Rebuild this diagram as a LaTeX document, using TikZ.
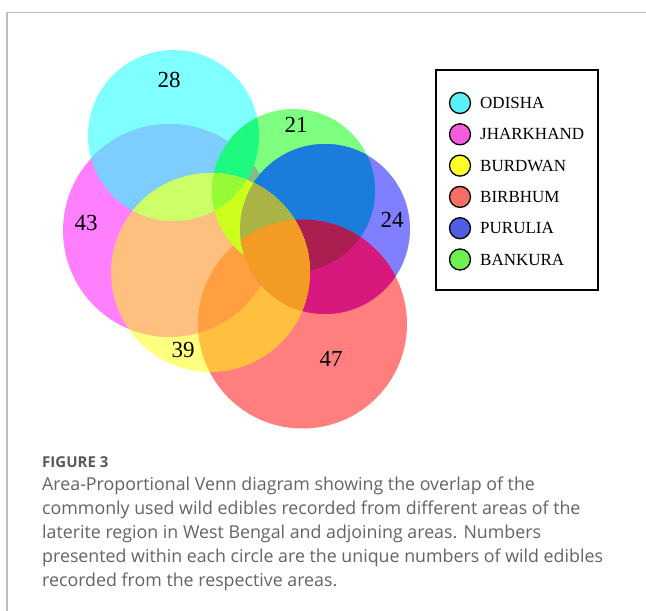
\documentclass[tikz,border=0pt]{standalone}
\usepackage{fontspec}
\setmainfont{Liberation Serif}
\newfontfamily\capfont{Open Sans}
\definecolor{cyanA}{RGB}{0,255,255}
\definecolor{magA}{RGB}{255,0,255}
\definecolor{yelA}{RGB}{255,255,0}
\definecolor{redA}{RGB}{255,0,0}
\definecolor{bluA}{RGB}{0,0,255}
\definecolor{grnA}{RGB}{0,255,0}
\definecolor{ovCM}{RGB}{125,205,255}
\definecolor{ovCG}{RGB}{30,250,128}
\definecolor{ovGB}{RGB}{26,125,220}
\definecolor{ovRB}{RGB}{215,25,125}
\definecolor{ovRBG}{RGB}{170,30,80}
\definecolor{ovYC}{RGB}{205,255,105}
\definecolor{ovYG}{RGB}{205,255,30}
\definecolor{ovYCG}{RGB}{150,250,55}
\definecolor{ovYGB}{RGB}{170,180,70}
\definecolor{ovYRB}{RGB}{243,155,35}
\definecolor{lgC}{RGB}{90,240,245}
\definecolor{lgM}{RGB}{245,90,225}
\definecolor{lgY}{RGB}{255,255,40}
\definecolor{lgR}{RGB}{245,112,98}
\definecolor{lgB}{RGB}{80,95,225}
\definecolor{lgG}{RGB}{110,240,80}
\definecolor{framegray}{RGB}{190,190,190}
\definecolor{captext}{RGB}{100,100,100}
\definecolor{figtext}{RGB}{88,88,88}
\tikzset{
  setcircle/.style={fill opacity=0.5},
  numlabel/.style={font=\fontsize{23}{27}\selectfont, inner sep=0pt},
  legdot/.style={circle, draw=black, line width=1.3pt, minimum size=21pt, inner sep=0pt},
  legtext/.style={font=\fontsize{17}{20}\selectfont, anchor=west, inner sep=0pt},
  captionline/.style={font=\capfont\fontsize{17.8}{21}\selectfont, color=captext, anchor=base west, inner sep=0pt}
}
\begin{document}
\begin{tikzpicture}[x=1pt,y=-1pt]
\useasboundingbox (0,0) rectangle (646,611);
\fill[white] (0,0) rectangle (646,611);
% frame
\draw[framegray, line width=1.4pt] (7,611) -- (7,12.7) -- (646,12.7);
% circle centres
\coordinate (cC) at (173.5,135.5);
\coordinate (cM) at (169.5,230.5);
\coordinate (cY) at (210.5,272.5);
\coordinate (cG) at (293.5,190.5);
\coordinate (cB) at (325,229);
\coordinate (cR) at (302.5,324);
% base circles
\fill[magA, setcircle] (cM) circle[radius=106.5];
\fill[cyanA, setcircle] (cC) circle[radius=85.5];
\fill[grnA, setcircle] (cG) circle[radius=81.5];
\fill[bluA, setcircle] (cB) circle[radius=85];
\fill[redA, setcircle] (cR) circle[radius=104.5];
% overlap colours
\begin{scope}
  \clip (cC) circle[radius=85.5];
  \fill[ovCM] (cM) circle[radius=106.5];
\end{scope}
\begin{scope}
  \clip (cC) circle[radius=85.5];
  \fill[ovCG] (cG) circle[radius=81.5];
\end{scope}
\begin{scope}
  \clip (cG) circle[radius=81.5];
  \fill[ovGB] (cB) circle[radius=85];
\end{scope}
\begin{scope}
  \clip (cR) circle[radius=104.5];
  \fill[ovRB] (cB) circle[radius=85];
\end{scope}
\begin{scope}
  \clip (cR) circle[radius=104.5];
  \clip (cG) circle[radius=81.5];
  \fill[ovRBG] (cB) circle[radius=85];
\end{scope}
\fill[yelA, setcircle] (cY) circle[radius=99.5];
\begin{scope}
  \clip (cY) circle[radius=99.5];
  \fill[ovYC] (cC) circle[radius=85.5];
\end{scope}
\begin{scope}
  \clip (cY) circle[radius=99.5];
  \fill[ovYG] (cG) circle[radius=81.5];
\end{scope}
\begin{scope}
  \clip (cY) circle[radius=99.5];
  \clip (cC) circle[radius=85.5];
  \fill[ovYCG] (cG) circle[radius=81.5];
\end{scope}
\begin{scope}
  \clip (cY) circle[radius=99.5];
  \clip (cG) circle[radius=81.5];
  \fill[ovYGB] (cB) circle[radius=85];
\end{scope}
\begin{scope}
  \clip (cY) circle[radius=99.5];
  \clip (cR) circle[radius=104.5];
  \fill[ovYRB] (cB) circle[radius=85];
\end{scope}
% numbers
\node[numlabel] (n28) at (169,80) {28};
\node[numlabel] (n21) at (296,125) {21};
\node[numlabel] (n43) at (86,223) {43};
\node[numlabel] (n24) at (392,220) {24};
\node[numlabel] (n39) at (183,350) {39};
\node[numlabel] (n47) at (331,359) {47};
% legend
\node[draw=black, line width=1.2pt, minimum width=162pt, minimum height=220pt, inner sep=0pt] (legbox) at (517,180) {};
\node[legdot, fill=lgC] (d1) at (460,103) {};
\node[legdot, fill=lgM] (d2) at (460,134.3) {};
\node[legdot, fill=lgY] (d3) at (460,165.6) {};
\node[legdot, fill=lgR] (d4) at (460,196.9) {};
\node[legdot, fill=lgB] (d5) at (460,228.2) {};
\node[legdot, fill=lgG] (d6) at (460,259.5) {};
\node[legtext] (t1) at (480,103) {ODISHA};
\node[legtext] (t2) at (480,134.3) {JHARKHAND};
\node[legtext] (t3) at (480,165.6) {BURDWAN};
\node[legtext] (t4) at (480,196.9) {BIRBHUM};
\node[legtext] (t5) at (480,228.2) {PURULIA};
\node[legtext] (t6) at (480,259.5) {BANKURA};
% caption
\node[captionline, font=\capfont\fontsize{15}{18}\selectfont\bfseries, color=figtext] (figlabel) at (42,467) {FIGURE 3};
\node[captionline] (cap1) at (42,490) {Area-Proportional Venn diagram showing the overlap of the};
\node[captionline] (cap2) at (42,514) {commonly used wild edibles recorded from different areas of the};
\node[captionline] (cap3) at (42,538) {laterite region in West Bengal and adjoining areas. Numbers};
\node[captionline] (cap4) at (42,562) {presented within each circle are the unique numbers of wild edibles};
\node[captionline] (cap5) at (42,586) {recorded from the respective areas.};
\end{tikzpicture}
\end{document}
